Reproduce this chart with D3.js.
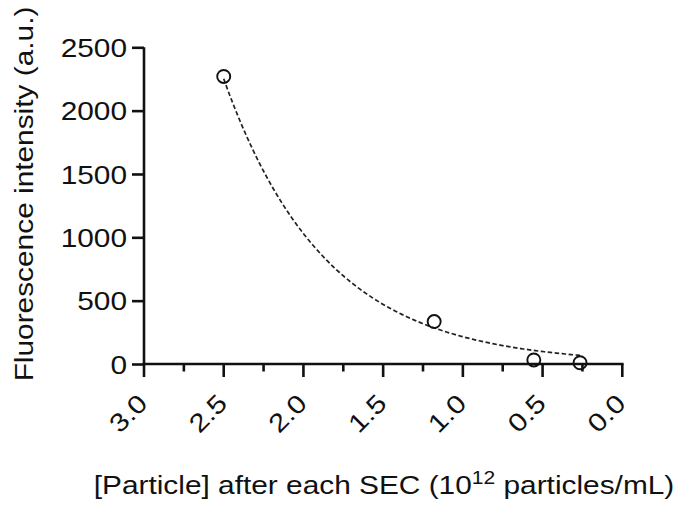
<!DOCTYPE html>
<html>
<head>
<meta charset="utf-8">
<script src="https://cdn.jsdelivr.net/npm/d3@7"></script>
<style>
  html, body { margin: 0; padding: 0; background: #fff; }
  svg text { font-family: "Liberation Sans", Arial, Helvetica, sans-serif; fill: #111; }
</style>
</head>
<body>
<svg id="chart" width="678" height="506"></svg>
<script>
// Measured particle concentration after each SEC step (10^12 particles/mL)
const particleConc = [2.5, 1.18, 0.555, 0.265];
// Fluorescence intensity (a.u.) for each step
const fluorescence = [2270, 335, 32, 10];

// One-phase exponential fit: y = fitAmplitude * exp(fitRate * x)
const fitAmplitude = 45;
const fitRate = 1.565;

const yTicks = [0, 500, 1000, 1500, 2000, 2500];
const xMajorTicks = [3.0, 2.5, 2.0, 1.5, 1.0, 0.5, 0.0];
const xMinorTicks = [2.75, 2.25, 1.75, 1.25, 0.75, 0.25];

const svg = d3.select("#chart");
const plotLeft = 144, plotRight = 622.3, plotTop = 47.3, plotBottom = 364;
const fontSize = 25.5;
const stretch = 1.17; // wide-set lettering along the text direction

const x = d3.scaleLinear().domain([3, 0]).range([plotLeft, plotRight]);
const y = d3.scaleLinear().domain([0, 2500]).range([plotBottom, plotTop]);

// Fitted curve, sampled across the measured range
const lo = d3.min(particleConc), hi = d3.max(particleConc);
const xs = d3.range(0, 121).map(i => lo + (hi - lo) * i / 120);
const line = d3.line().x(d => x(d)).y(d => y(fitAmplitude * Math.exp(fitRate * d)));
svg.append("path")
  .datum(xs)
  .attr("d", line)
  .attr("fill", "none")
  .attr("stroke", "#222")
  .attr("stroke-width", 1.7)
  .attr("stroke-dasharray", "4.5,2.5");

// Y axis
const yAxis = svg.append("g")
  .attr("transform", `translate(${plotLeft},0)`)
  .call(d3.axisLeft(y).tickValues(yTicks).tickSize(12).tickFormat(d3.format("d")));
yAxis.attr("font-family", null).attr("font-size", null);
yAxis.select(".domain").attr("stroke", "#111").attr("stroke-width", 2.6).attr("d", `M0,${plotBottom + 1.3}V${plotTop}`);
yAxis.selectAll(".tick line").attr("stroke", "#111").attr("stroke-width", 2.6);
yAxis.selectAll(".tick text")
  .attr("font-size", fontSize)
  .attr("x", 0)
  .attr("dy", "0.36em")
  .attr("transform", `translate(-17,0) scale(${stretch},1)`);

// X axis with minor ticks
const xg = svg.append("g").attr("transform", `translate(0,${plotBottom})`);
xg.selectAll("line.minor").data(xMinorTicks).join("line")
  .attr("class", "minor")
  .attr("x1", d => x(d)).attr("x2", d => x(d))
  .attr("y1", 0).attr("y2", 7.5)
  .attr("stroke", "#111").attr("stroke-width", 2.6);
xg.selectAll("line.major").data(xMajorTicks).join("line")
  .attr("class", "major")
  .attr("x1", d => x(d)).attr("x2", d => x(d))
  .attr("y1", 0).attr("y2", 13)
  .attr("stroke", "#111").attr("stroke-width", 2.6);
xg.append("line")
  .attr("x1", plotLeft - 1.3).attr("x2", plotRight + 1.3)
  .attr("y1", 0).attr("y2", 0)
  .attr("stroke", "#111").attr("stroke-width", 2.6);
xg.selectAll("text.tl").data(xMajorTicks).join("text")
  .attr("class", "tl")
  .attr("font-size", fontSize)
  .attr("text-anchor", "end")
  .attr("transform", d => `translate(${x(d) + 5},${41}) rotate(-45) scale(${stretch},1)`)
  .text(d => d3.format(".1f")(d));

// Data points
svg.selectAll("circle.pt").data(particleConc).join("circle")
  .attr("class", "pt")
  .attr("cx", d => x(d))
  .attr("cy", (d, i) => y(fluorescence[i]))
  .attr("r", 6.5)
  .attr("fill", "none")
  .attr("stroke", "#111")
  .attr("stroke-width", 1.9);

// Axis titles
svg.append("text")
  .attr("font-size", fontSize)
  .attr("text-anchor", "middle")
  .attr("transform", `translate(33,194) rotate(-90) scale(${stretch},1)`)
  .text("Fluorescence intensity (a.u.)");

const xt = svg.append("text")
  .attr("font-size", fontSize)
  .attr("text-anchor", "middle")
  .attr("transform", `translate(384,493.5) scale(${stretch},1)`);
xt.append("tspan").text("[Particle] after each SEC (10");
xt.append("tspan").attr("font-size", 18).attr("dy", -10).text("12");
xt.append("tspan").attr("dy", 10).text(" particles/mL)");
</script>
</body>
</html>
